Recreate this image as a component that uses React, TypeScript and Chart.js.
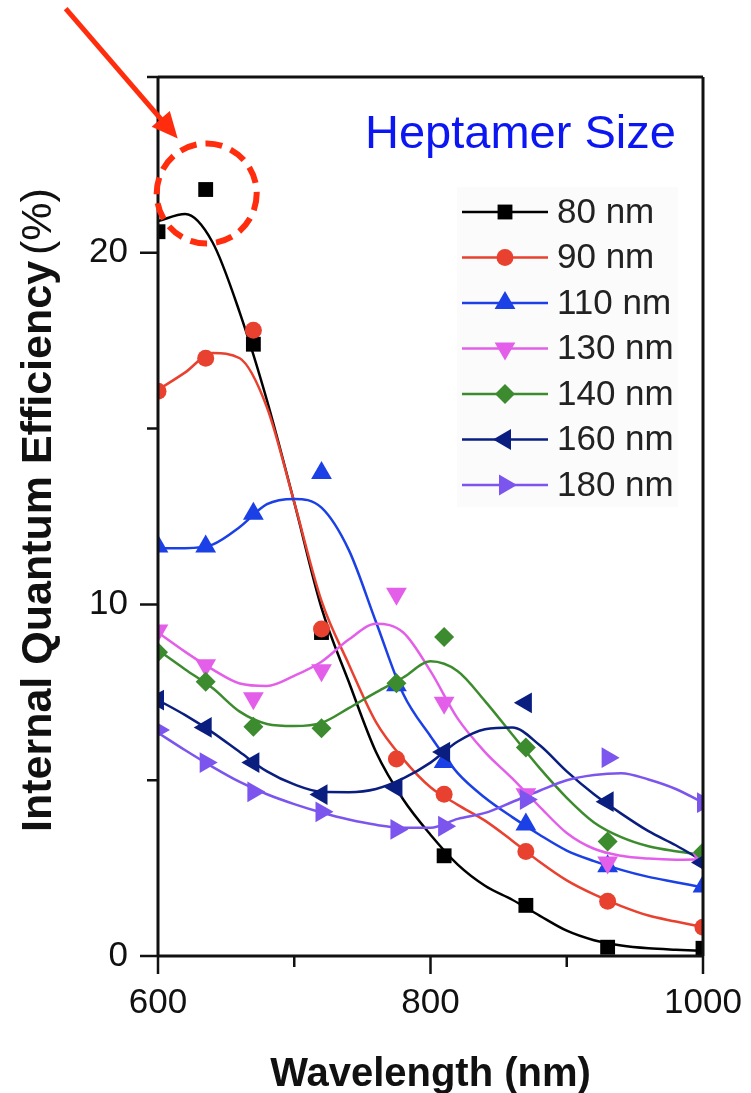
import React, { useEffect, useRef } from "react";
import { Chart, registerables } from "chart.js";

Chart.register(...registerables);

// ---------- data ----------
const WAVELENGTH = [600, 635, 670, 720, 775, 810, 870, 930, 1000];

const IQE_80 = [20.6, 21.8, 17.4, 9.2, null, 2.85, 1.44, 0.25, 0.22];
const IQE_90 = [16.06, 17.0, 17.8, 9.3, 5.6, 4.6, 2.97, 1.56, 0.82];
const IQE_110 = [11.65, 11.65, 12.58, 13.74, 7.7, 5.52, 3.74, 2.55, 1.98];
const IQE_130 = [9.26, 8.27, 7.33, 8.13, 10.3, 7.2, 4.6, 2.66, 2.75];
const IQE_140 = [8.64, 7.8, 6.52, 6.48, 7.76, 9.07, 5.93, 3.26, 2.95];
const IQE_160 = [7.28, 6.5, 5.5, 4.59, 4.79, 5.8, 7.2, 4.39, 2.66];
const IQE_180 = [6.43, 5.5, 4.67, 4.1, 3.6, 3.69, 4.45, 5.64, 4.36];

// fitted curves, read every 20 nm
const FIT_WAVELENGTH = [600, 620, 640, 660, 680, 700, 720, 740, 760, 780, 800, 820, 840, 860, 880, 900, 920, 940, 960, 980, 1000];
const FIT_80 = [20.9, 21.1, 20.3, 18.3, 15.8, 12.9, 9.9, 7.8, 5.8, 4.45, 3.45, 2.6, 2.0, 1.6, 1.15, 0.72, 0.45, 0.3, 0.22, 0.18, 0.15];
const FIT_90 = [16.1, 16.6, 17.15, 17.0, 15.6, 12.9, 10.1, 8.3, 6.65, 5.6, 4.8, 4.3, 3.85, 3.28, 2.68, 2.15, 1.75, 1.42, 1.15, 0.98, 0.82];
const FIT_110 = [11.6, 11.6, 11.7, 12.2, 12.85, 13.0, 12.75, 11.55, 9.5, 7.45, 6.25, 5.2, 4.5, 3.95, 3.45, 3.0, 2.7, 2.45, 2.25, 2.1, 1.95];
const FIT_130 = [9.2, 8.65, 8.15, 7.75, 7.68, 7.97, 8.37, 9.0, 9.45, 9.2, 8.1, 6.75, 5.8, 5.05, 4.25, 3.5, 3.05, 2.85, 2.77, 2.74, 2.75];
const FIT_140 = [8.7, 8.15, 7.62, 6.95, 6.6, 6.54, 6.63, 7.05, 7.5, 7.92, 8.38, 8.1, 7.25, 6.3, 5.35, 4.5, 3.8, 3.38, 3.12, 2.98, 2.88];
const FIT_160 = [7.28, 6.85, 6.36, 5.8, 5.25, 4.88, 4.67, 4.66, 4.75, 5.05, 5.5, 6.1, 6.45, 6.5, 6.0, 5.25, 4.6, 4.05, 3.55, 3.15, 2.7];
const FIT_180 = [6.35, 5.85, 5.38, 4.95, 4.6, 4.32, 4.08, 3.88, 3.73, 3.65, 3.65, 3.9, 4.07, 4.38, 4.7, 5.0, 5.15, 5.2, 5.02, 4.75, 4.36];

const SERIES_LABELS = ["80 nm", "90 nm", "110 nm", "130 nm", "140 nm", "160 nm", "180 nm"];
const X_TICK_LABELS = [600, 800, 1000];
const Y_TICK_LABELS = [0, 10, 20];
const X_TITLE = "Wavelength (nm)";
const Y_TITLE_MAIN = "Internal Quantum Efficiency";
const Y_TITLE_UNIT = "(%)";
const LEGEND_TITLE = "Heptamer Size";
const HIGHLIGHT_INDEX = 1; // the circled 80 nm point

// ---------- styles ----------
const MARKERS = [IQE_80, IQE_90, IQE_110, IQE_130, IQE_140, IQE_160, IQE_180];
const FITS = [FIT_80, FIT_90, FIT_110, FIT_130, FIT_140, FIT_160, FIT_180];
const STYLES = [
  { color: "#000000", shape: "rect", rot: 0, r: 10.5 },
  { color: "#e8412f", shape: "circle", rot: 0, r: 8.5 },
  { color: "#1a40e6", shape: "triangle", rot: 0, r: 12 },
  { color: "#e35fe9", shape: "triangle", rot: 180, r: 12 },
  { color: "#3d8b2f", shape: "rectRot", rot: 0, r: 10 },
  { color: "#0a1e80", shape: "triangle", rot: 270, r: 12 },
  { color: "#7b55ee", shape: "triangle", rot: 90, r: 12 },
];
const FONT = "'Liberation Sans', Arial, Helvetica, sans-serif";
const AXIS_COLOR = "#111111";

function drawMarker(ctx: CanvasRenderingContext2D, shape: string, r: number, rot: number, x: number, y: number, color: string) {
  ctx.save();
  ctx.translate(x, y);
  ctx.rotate((rot * Math.PI) / 180);
  ctx.fillStyle = color;
  ctx.beginPath();
  if (shape === "rect") {
    const s = r * Math.SQRT1_2;
    ctx.rect(-s, -s, 2 * s, 2 * s);
  } else if (shape === "circle") {
    ctx.arc(0, 0, r, 0, Math.PI * 2);
  } else if (shape === "rectRot") {
    ctx.moveTo(-r, 0);
    ctx.lineTo(0, -r);
    ctx.lineTo(r, 0);
    ctx.lineTo(0, r);
    ctx.closePath();
  } else {
    for (let k = 0; k < 3; k++) {
      const a = (k * 2 * Math.PI) / 3;
      const px = Math.sin(a) * r;
      const py = -Math.cos(a) * r;
      if (k === 0) ctx.moveTo(px, py);
      else ctx.lineTo(px, py);
    }
    ctx.closePath();
  }
  ctx.fill();
  ctx.restore();
}

const decorPlugin = {
  id: "decor",
  afterDraw(chart: any) {
    const ctx: CanvasRenderingContext2D = chart.ctx;
    const { left, right, top, bottom } = chart.chartArea;
    const xs = chart.scales.x;
    const ys = chart.scales.y;

    ctx.save();
    // frame
    ctx.strokeStyle = AXIS_COLOR;
    ctx.lineWidth = 3;
    ctx.beginPath();
    ctx.moveTo(left, top);
    ctx.lineTo(right, top);
    ctx.moveTo(right, top);
    ctx.lineTo(right, bottom);
    ctx.moveTo(left, top);
    ctx.lineTo(left, bottom);
    ctx.moveTo(left, bottom);
    ctx.lineTo(right, bottom);
    ctx.stroke();

    // tick marks
    ctx.lineWidth = 2.5;
    ctx.beginPath();
    xs.ticks.forEach((t: any) => {
      const px = xs.getPixelForValue(t.value);
      const len = X_TICK_LABELS.includes(t.value) ? 18 : 11;
      ctx.moveTo(px, bottom);
      ctx.lineTo(px, bottom + len);
    });
    ys.ticks.forEach((t: any) => {
      const py = ys.getPixelForValue(t.value);
      const len = Y_TICK_LABELS.includes(t.value) ? 18 : 11;
      ctx.moveTo(left, py);
      ctx.lineTo(left - len, py);
    });
    ctx.stroke();

    // x tick labels
    ctx.fillStyle = "#111111";
    ctx.font = `35px ${FONT}`;
    ctx.textAlign = "center";
    ctx.textBaseline = "middle";
    X_TICK_LABELS.forEach((v) => {
      ctx.fillText(String(v), xs.getPixelForValue(v), bottom + 47);
    });

    // axis titles
    ctx.font = `bold 40px ${FONT}`;
    ctx.textAlign = "center";
    ctx.textBaseline = "alphabetic";
    ctx.fillText(X_TITLE, (left + right) / 2, 1086);

    ctx.save();
    ctx.translate(51, 832);
    ctx.rotate(-Math.PI / 2);
    ctx.textAlign = "left";
    ctx.font = `bold 43px ${FONT}`;
    ctx.fillText(Y_TITLE_MAIN, 0, 0);
    const w1 = ctx.measureText(Y_TITLE_MAIN).width;
    ctx.font = `43px ${FONT}`;
    ctx.fillText(Y_TITLE_UNIT, w1 + 6, 0);
    ctx.restore();

    // legend
    ctx.fillStyle = "#fbfbfb";
    ctx.fillRect(right - 246, top + 110, 221, 320);
    ctx.fillStyle = "#0b16f2";
    ctx.font = `47px ${FONT}`;
    ctx.textAlign = "left";
    ctx.textBaseline = "alphabetic";
    ctx.fillText(LEGEND_TITLE, right - 338, top + 71);

    SERIES_LABELS.forEach((lab, i) => {
      const st = STYLES[i];
      const y = top + 135 + i * 45.5;
      ctx.strokeStyle = st.color;
      ctx.lineWidth = 2.5;
      ctx.beginPath();
      ctx.moveTo(right - 241, y);
      ctx.lineTo(right - 155, y);
      ctx.stroke();
      drawMarker(ctx, st.shape, st.r, st.rot, right - 198, y, st.color);
      ctx.fillStyle = "#222222";
      ctx.font = `35px ${FONT}`;
      ctx.textBaseline = "middle";
      ctx.fillText(lab, right - 146, y + 1);
    });

    // annotation: dashed circle + arrow on highlighted point
    const cx = xs.getPixelForValue(WAVELENGTH[HIGHLIGHT_INDEX]) + 1;
    const cy = ys.getPixelForValue(IQE_80[HIGHLIGHT_INDEX] as number) + 4;
    const red = "#ff2d0d";
    ctx.strokeStyle = red;
    ctx.lineWidth = 6;
    ctx.setLineDash([17, 9]);
    ctx.beginPath();
    ctx.arc(cx, cy, 50, 0, Math.PI * 2);
    ctx.stroke();
    ctx.setLineDash([]);

    const tx = cx - 141, ty = cy - 185;
    const hx = cx - 29, hy = cy - 55;
    const dx = hx - tx, dy = hy - ty;
    const L = Math.hypot(dx, dy);
    const ux = dx / L, uy = dy / L;
    const bx = hx - ux * 26, by = hy - uy * 26;
    ctx.lineWidth = 5;
    ctx.lineCap = "butt";
    ctx.beginPath();
    ctx.moveTo(tx, ty);
    ctx.lineTo(bx + ux * 4, by + uy * 4);
    ctx.stroke();
    ctx.fillStyle = red;
    ctx.beginPath();
    ctx.moveTo(hx, hy);
    ctx.lineTo(bx - uy * 12, by + ux * 12);
    ctx.lineTo(bx + uy * 12, by - ux * 12);
    ctx.closePath();
    ctx.fill();
    ctx.restore();
  },
};

export default function App() {
  const ref = useRef<HTMLCanvasElement | null>(null);

  useEffect(() => {
    document.body.style.margin = "0";
    document.body.style.overflow = "hidden";
    const canvas = ref.current;
    if (!canvas) return;

    const datasets: any[] = [];
    SERIES_LABELS.forEach((lab, i) => {
      const st = STYLES[i];
      datasets.push({
        label: lab + " fit",
        data: FIT_WAVELENGTH.map((x, j) => ({ x, y: FITS[i][j] })),
        borderColor: st.color,
        borderWidth: 2.5,
        pointRadius: 0,
        cubicInterpolationMode: "monotone",
        fill: false,
        clip: 0,
        order: 30 - i,
      });
      datasets.push({
        label: lab,
        data: WAVELENGTH.map((x, j) => ({ x, y: MARKERS[i][j] })),
        showLine: false,
        pointStyle: st.shape,
        pointRotation: st.rot,
        pointRadius: st.r,
        pointBackgroundColor: st.color,
        pointBorderColor: st.color,
        pointBorderWidth: 0,
        clip: 0,
        order: 10 - i,
      });
    });

    const chart = new Chart(canvas, {
      type: "line",
      data: { datasets },
      options: {
        responsive: false,
        animation: false,
        devicePixelRatio: 1,
        layout: { autoPadding: false, padding: { top: 77, right: 48, left: 0, bottom: 0 } },
        plugins: { legend: { display: false }, tooltip: { enabled: false } },
        scales: {
          x: {
            type: "linear",
            min: 600,
            max: 1000,
            afterFit(s: any) {
              s.height = 137;
            },
            grid: { display: false, drawTicks: false },
            border: { display: false },
            ticks: {
              display: false,
              stepSize: 100,
              autoSkip: false,
              maxRotation: 0,
            },
          },
          y: {
            type: "linear",
            min: 0,
            max: 25,
            afterFit(s: any) {
              s.width = 158;
            },
            grid: { display: false, drawTicks: false },
            border: { display: false },
            ticks: {
              stepSize: 5,
              autoSkip: false,
              padding: 30,
              color: "#111111",
              font: { family: FONT, size: 35 },
              callback: (v: any) => (Y_TICK_LABELS.includes(Number(v)) ? String(v) : ""),
            },
          },
        },
      } as any,
      plugins: [decorPlugin],
    });
    return () => chart.destroy();
  }, []);

  return (
    <div style={{ width: 751, height: 1093, background: "#ffffff" }}>
      <canvas ref={ref} width={751} height={1093} style={{ display: "block" }} />
    </div>
  );
}
